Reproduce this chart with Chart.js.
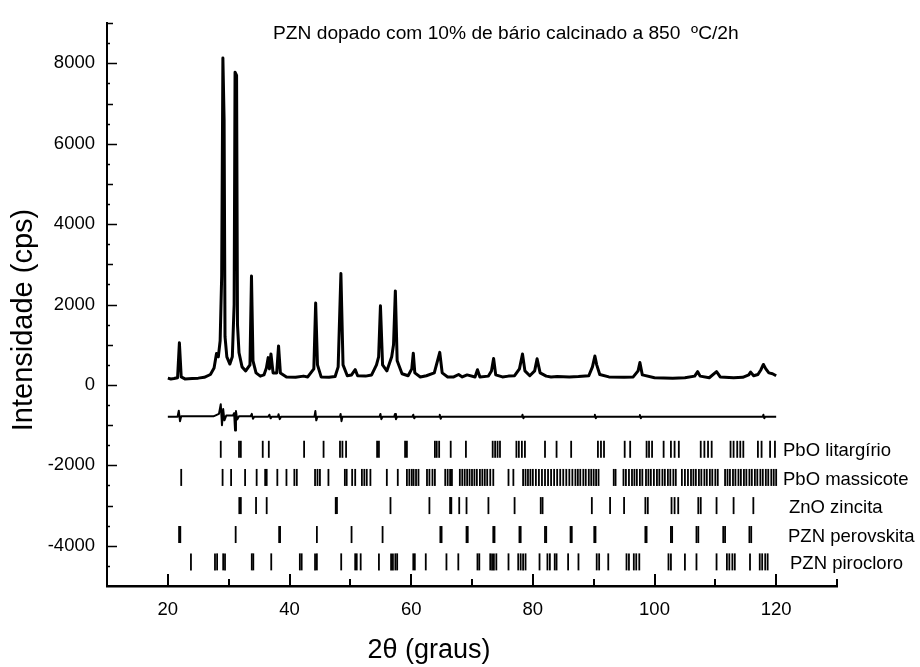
<!DOCTYPE html>
<html>
<head>
<meta charset="utf-8">
<script src="https://cdn.jsdelivr.net/npm/chart.js@4.4.0/dist/chart.umd.min.js"></script>
<style>
  body { margin: 0; background: #fff; }
  #wrap { width: 920px; height: 667px; position: relative; }
</style>
</head>
<body>
<div id="wrap"><canvas id="grafico"></canvas></div>
<script>
// difratograma (2theta em graus, intensidade em cps)
const twoTheta = [20.0, 20.5, 21.0, 21.6, 21.9, 22.2, 22.8, 24.0, 25.0, 26.0, 27.0, 27.6, 28.0, 28.3, 28.6, 28.85, 29.05, 29.25, 29.4,
  29.7, 30.2, 30.6, 30.9, 31.05, 31.3, 31.45, 31.7, 32.2, 32.8, 33.5, 33.75, 34.0, 34.5, 35.2, 35.8, 36.2, 36.5, 36.7, 36.95,
  37.3, 37.9, 38.2, 38.5, 39.5, 41.0, 42.3, 43.0, 44.0, 44.3, 44.6, 45.2, 46.5, 47.5, 48.0, 48.45, 48.8, 49.5, 50.2, 50.8,
  51.2, 52.5, 53.5, 54.3, 54.65, 54.95, 55.3, 56.0, 56.8, 57.1, 57.4, 57.7, 58.5, 59.5, 60.1, 60.35, 60.6, 61.5, 62.5, 63.8,
  64.7, 65.1, 66.0, 67.0, 67.8, 68.4, 69.2, 70.5, 70.9, 71.3, 72.7, 73.2, 73.55, 73.9, 75.0, 76.0, 77.0, 77.8, 78.3, 78.7,
  79.5, 80.3, 80.7, 81.2, 82.2, 83.0, 84.0, 86.0, 87.5, 89.2, 89.8, 90.2, 90.5, 91.0, 92.5, 95.0, 96.5, 97.3, 97.6, 98.0,
  100.0, 103.0, 105.0, 106.6, 107.1, 107.5, 109.0, 110.2, 110.8, 113.0, 114.5, 115.5, 115.8, 116.3, 117.0, 117.5, 117.9,
  118.3, 118.8, 119.4, 120.0];
const intensidade = [170, 150, 160, 180, 1050, 200, 150, 160, 170, 190, 260, 420, 780, 700, 1100, 2700, 8130, 6600, 1200,
  700, 520, 700, 2000, 7780, 7700, 1500, 800, 450, 350, 500, 2710, 600, 300, 220, 250, 420, 680, 400, 770,
  300, 300, 970, 300, 200, 190, 220, 200, 400, 2040, 500, 200, 190, 210, 450, 2770, 500, 230, 250, 380,
  230, 220, 250, 500, 700, 1970, 500, 350, 700, 1000, 2340, 600, 280, 230, 400, 790, 300, 200, 230, 300,
  810, 300, 200, 200, 260, 200, 250, 200, 380, 200, 220, 350, 660, 250, 200, 220, 230, 400, 770, 350,
  230, 350, 650, 300, 220, 200, 210, 200, 210, 230, 450, 720, 500, 260, 200, 190, 200, 350, 560, 250,
  180, 170, 180, 220, 330, 220, 180, 330, 200, 180, 190, 250, 320, 230, 260, 380, 510,
  400, 300, 280, 230];

// curva diferenca (obs - calc), deslocada
const diffTheta = [20.0, 21.6, 21.8, 22.0, 22.2, 27.5, 28.4, 28.7, 28.9, 29.1, 29.3, 29.6,
  30.7, 30.9, 31.05, 31.2, 31.4, 31.7, 33.6, 33.8, 34.0, 34.2, 36.5, 36.7,
  36.9, 37.1, 38.1, 38.2, 38.4, 38.6, 44.1, 44.25, 44.4, 44.6, 48.3, 48.4,
  48.55, 48.7, 54.8, 54.95, 55.1, 55.3, 57.2, 57.35, 57.5, 57.7, 60.2, 60.35,
  60.5, 60.7, 64.6, 64.7, 64.85, 65.0, 78.2, 78.3, 78.45, 78.6, 90.1, 90.2,
  90.35, 90.5, 97.5, 97.6, 97.75, 97.9, 117.8, 117.9, 118.05, 118.2, 120.0];
const diffInt = [-790, -790, -640, -900, -780, -780, -720, -480, -1000, -600, -880, -760,
  -760, -700, -1130, -650, -860, -780, -780, -720, -840, -790, -790, -740,
  -830, -790, -790, -730, -850, -790, -790, -650, -880, -790, -790, -720,
  -900, -790, -790, -720, -850, -790, -790, -720, -850, -790, -790, -740,
  -830, -790, -790, -740, -840, -790, -790, -740, -830, -790, -790, -740,
  -830, -790, -790, -750, -830, -790, -790, -740, -830, -790, -790];

// posicoes de Bragg de cada fase
const fases = ['PbO litargírio', 'PbO massicote', 'ZnO zincita', 'PZN perovskita', 'PZN pirocloro'];
const nivelFase = [-1600, -2300, -3000, -3720, -4400];
const pbOLitargirio = [28.7, 31.7, 32.0, 35.6, 36.6, 42.4, 45.6, 48.3, 48.7, 49.3, 54.4, 54.7, 59.0, 59.3, 63.9, 64.2, 64.6,
  66.5, 69.0, 73.4, 73.8, 74.2, 74.6, 77.3, 77.7, 78.2, 78.7, 82.0, 83.9, 86.3, 90.7, 91.2, 91.7, 95.1, 96.0, 98.7, 99.1,
  99.6, 101.5, 102.7, 103.3, 104.0, 107.6, 108.2, 108.8, 109.4, 112.5, 113.0, 113.6, 114.1, 114.6, 117.0, 117.6, 119.0, 119.8];
const pbOMassicote = [22.2, 29.0, 30.4, 32.7, 34.6, 36.0, 36.25, 38.0, 39.5, 40.8, 41.2, 44.2, 44.6, 45.0, 46.4, 49.1, 49.4,
  50.3, 50.8, 51.9, 52.3, 52.7, 53.3, 56.0, 57.8, 59.3, 59.7, 60.1, 60.4, 60.8, 61.2, 62.6, 63.0, 63.5, 63.9, 65.6, 66.0,
  66.4, 66.7, 68.0, 68.4, 68.8, 69.2, 69.6, 70.0, 70.4, 70.8, 71.3, 71.7, 72.1, 72.5, 73.0, 73.5, 76.0, 76.8, 78.4, 78.8,
  79.2, 79.6, 80.0, 80.5, 81.0, 81.5, 82.0, 82.5, 83.0, 83.5, 84.0, 84.5, 85.0, 85.5, 86.0, 86.5, 87.0, 87.4, 87.8, 88.3,
  88.7, 89.2, 89.6, 90.0, 90.4, 90.8, 93.3, 93.6, 94.9, 95.3, 95.8, 96.3, 96.7, 97.1, 97.6, 98.0, 98.6, 99.0, 99.4, 99.9,
  100.4, 100.8, 101.3, 101.7, 102.2, 102.6, 103.1, 103.5, 104.5, 105.0, 105.5, 106.0, 106.4, 106.8, 107.3, 107.7, 108.2,
  108.6, 109.1, 109.5, 110.0, 110.4, 111.6, 112.0, 112.4, 112.9, 113.3, 113.8, 114.2, 114.7, 115.1, 115.6, 116.0, 116.5,
  116.9, 117.4, 117.8, 118.3, 118.7, 119.2, 119.6, 120.0];
const znOZincita = [31.75, 32.0, 34.5, 36.25, 47.6, 47.8, 56.6, 63.0, 66.4, 66.6, 67.9, 69.1, 72.7, 77.0, 81.3, 81.6, 89.7,
  92.7, 95.0, 98.5, 98.9, 102.8, 103.3, 103.9, 107.2, 107.6, 110.2, 113.0, 116.25];
const pznPerovskita = [21.85, 22.05, 31.15, 38.3, 38.45, 44.5, 50.2, 55.3, 64.8, 65.0, 69.1, 69.3, 73.5, 73.7, 77.8, 78.0,
  82.0, 82.2, 86.2, 86.4, 90.1, 90.3, 98.5, 98.7, 102.7, 102.9, 106.9, 107.2, 111.3, 111.6, 115.6, 115.9];
const pznPirocloro = [23.8, 27.75, 28.1, 29.1, 29.4, 33.8, 34.05, 37.0, 41.7, 42.0, 44.2, 44.5, 48.5, 50.8, 51.05, 51.7,
  54.7, 56.7, 57.0, 57.4, 57.7, 60.35, 60.6, 62.4, 65.8, 67.75, 70.9, 71.2, 73.0, 73.3, 73.6, 74.0, 76.0, 77.6, 78.0,
  78.4, 78.8, 81.1, 82.4, 82.8, 83.6, 83.9, 85.8, 87.5, 90.5, 90.9, 92.4, 95.4, 95.8, 96.6, 97.0, 97.5, 102.3, 102.7,
  105.0, 106.9, 110.2, 111.9, 112.3, 112.8, 113.2, 115.7, 117.3, 117.7, 118.2, 118.6];
const posicoesFases = [pbOLitargirio, pbOMassicote, znOZincita, pznPerovskita, pznPirocloro];

const fonte = "'Liberation Sans', Arial, sans-serif";

const pontos = (xs, ys) => xs.map((v, i) => ({ x: v, y: ys[i] }));

const datasets = [
  {
    label: 'calculado',
    data: pontos(twoTheta, intensidade),
    showLine: true,
    borderColor: '#000',
    borderWidth: 3,
    borderJoinStyle: 'round',
    pointRadius: 0,
    tension: 0
  },
  {
    label: 'diferenca',
    data: pontos(diffTheta, diffInt),
    showLine: true,
    borderColor: '#000',
    borderWidth: 2,
    borderJoinStyle: 'round',
    pointRadius: 0,
    tension: 0
  }
];
posicoesFases.forEach((lista, k) => {
  datasets.push({
    label: fases[k],
    data: lista.map(v => ({ x: v, y: nivelFase[k] })),
    showLine: false,
    pointStyle: 'line',
    rotation: 90,
    pointRadius: 8.5,
    borderColor: '#000',
    borderWidth: 1.8
  });
});

// marcas dos eixos (para dentro) e textos
const eixosPlugin = {
  id: 'eixos',
  afterDraw(chart) {
    const ctx = chart.ctx;
    const sx = chart.scales.x;
    const sy = chart.scales.y;
    const area = chart.chartArea;
    ctx.save();
    ctx.strokeStyle = '#000';
    ctx.lineWidth = 2;
    ctx.beginPath();
    for (let v = 20; v <= 130; v += 10) {
      const px = Math.round(sx.getPixelForValue(v));
      const len = v % 20 === 0 ? 12 : 7;
      ctx.moveTo(px, area.bottom);
      ctx.lineTo(px, area.bottom - len);
    }
    ctx.stroke();
    ctx.lineWidth = 1.5;
    ctx.beginPath();
    for (let v = -4500; v <= 9000; v += 500) {
      const py = Math.round(sy.getPixelForValue(v)) + 0.5;
      const len = v % 2000 === 0 ? 10 : (v % 1000 === 0 ? 6 : 3);
      ctx.moveTo(area.left, py);
      ctx.lineTo(area.left + len, py);
    }
    ctx.stroke();

    ctx.fillStyle = '#000';
    ctx.textBaseline = 'middle';
    ctx.textAlign = 'left';
    ctx.font = '19.2px ' + fonte;
    ctx.fillText('PZN dopado com 10% de bário calcinado a 850  ºC/2h', 273, 34);

    ctx.font = '18.5px ' + fonte;
    const xLabel = [783, 783, 789, 788, 790];
    fases.forEach((nome, k) => {
      const py = sy.getPixelForValue(nivelFase[k]) + 2;
      ctx.fillText(nome, xLabel[k], py);
    });

    ctx.textAlign = 'center';
    ctx.font = '27px ' + fonte;
    ctx.fillText('2θ (graus)', 429, 651);

    ctx.save();
    ctx.translate(24, 320);
    ctx.rotate(-Math.PI / 2);
    ctx.font = '29px ' + fonte;
    ctx.fillText('Intensidade (cps)', 0, 0);
    ctx.restore();
    ctx.restore();
  }
};

new Chart(document.getElementById('grafico'), {
  type: 'scatter',
  data: { datasets: datasets },
  options: {
    responsive: true,
    maintainAspectRatio: false,
    animation: false,
    events: [],
    layout: { padding: { left: 0, top: 15, right: 83, bottom: 0 } },
    plugins: { legend: { display: false }, tooltip: { enabled: false } },
    scales: {
      x: {
        type: 'linear',
        min: 10,
        max: 130,
        afterFit: s => { s.height = 81; },
        grid: { display: false, drawTicks: false },
        border: { display: true, color: '#000', width: 2.5 },
        ticks: {
          stepSize: 10,
          autoSkip: false,
          maxRotation: 0,
          padding: 13,
          color: '#000',
          font: { family: fonte, size: 18.5 },
          callback: v => (v % 20 === 0 && v >= 20 && v <= 120) ? v : ''
        }
      },
      y: {
        type: 'linear',
        min: -5000,
        max: 9000,
        afterFit: s => { s.width = 107; },
        grid: { display: false, drawTicks: false },
        border: { display: true, color: '#000', width: 2 },
        ticks: {
          stepSize: 1000,
          autoSkip: false,
          padding: 12,
          color: '#000',
          font: { family: fonte, size: 18.5 },
          callback: v => v % 2000 === 0 ? v : ''
        }
      }
    }
  },
  plugins: [eixosPlugin]
});
</script>
</body>
</html>
